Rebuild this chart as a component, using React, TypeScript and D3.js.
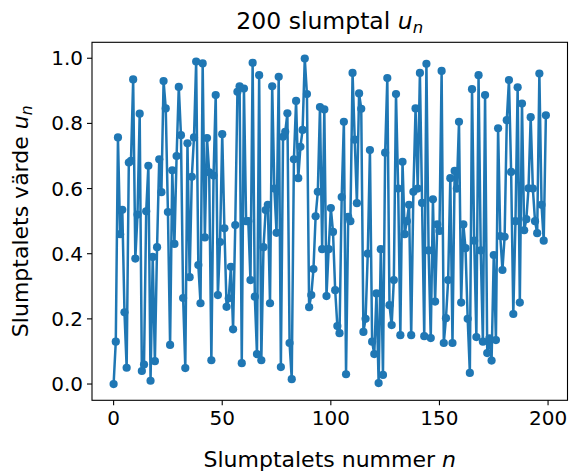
import React from "react";
import * as d3 from "d3";

const values: number[] = [
  0.0, 0.13, 0.757, 0.46, 0.535, 0.22, 0.05, 0.68, 0.685, 0.935,
  0.385, 0.52, 0.83, 0.04, 0.06, 0.53, 0.67, 0.01, 0.39, 0.07,
  0.42, 0.69, 0.589, 0.93, 0.846, 0.528, 0.12, 0.656, 0.43, 0.7,
  0.912, 0.764, 0.264, 0.049, 0.739, 0.328, 0.636, 0.757, 0.99, 0.365,
  0.248, 0.984, 0.45, 0.755, 0.65, 0.073, 0.64, 0.887, 0.273, 0.436,
  0.767, 0.478, 0.237, 0.263, 0.36, 0.168, 0.488, 0.897, 0.914, 0.064,
  0.907, 0.5, 0.5, 0.319, 0.986, 0.268, 0.092, 0.948, 0.073, 0.42,
  0.534, 0.55, 0.248, 0.914, 0.6, 0.464, 0.943, 0.052, 0.759, 0.774,
  0.831, 0.126, 0.015, 0.69, 0.869, 0.632, 0.728, 0.78, 0.999, 0.89,
  0.236, 0.273, 0.353, 0.515, 0.59, 0.85, 0.414, 0.843, 0.27, 0.414,
  0.54, 0.467, 0.288, 0.178, 0.156, 0.574, 0.805, 0.03, 0.513, 0.5,
  0.955, 0.75, 0.555, 0.892, 0.845, 0.16, 0.2, 0.4, 0.718, 0.13,
  0.092, 0.278, 0.003, 0.414, 0.028, 0.71, 0.939, 0.242, 0.181, 0.319,
  0.89, 0.6, 0.15, 0.682, 0.46, 0.5, 0.55, 0.15, 0.59, 0.846,
  0.6, 0.955, 0.556, 0.147, 0.983, 0.41, 0.141, 0.567, 0.253, 0.49,
  0.47, 0.961, 0.126, 0.202, 0.319, 0.632, 0.126, 0.654, 0.6, 0.805,
  0.25, 0.49, 0.417, 0.2, 0.034, 0.905, 0.44, 0.144, 0.948, 0.41,
  0.13, 0.887, 0.095, 0.14, 0.072, 0.396, 0.135, 0.785, 0.454, 0.35,
  0.452, 0.81, 0.933, 0.651, 0.215, 0.5, 0.911, 0.25, 0.861, 0.472,
  0.506, 0.601, 0.819, 0.6, 0.5, 0.463, 0.953, 0.55, 0.44, 0.825,
];

const xTicks: number[] = [0, 50, 100, 150, 200];
const yTicks: number[] = [0.0, 0.2, 0.4, 0.6, 0.8, 1.0];

const W = 570;
const H = 473;
const left = 92;
const right = 567.5;
const top = 42.3;
const bottom = 400.3;
const color = "#1f77b4";
const font = "'DejaVu Sans', sans-serif";

export default function App() {
  const n = values.length;
  const xm = (n - 1) * 0.05;
  const x = d3.scaleLinear().domain([-xm, n - 1 + xm]).range([left, right]);
  const ymin = d3.min(values)!;
  const ymax = d3.max(values)!;
  const ym = (ymax - ymin) * 0.05;
  const y = d3.scaleLinear().domain([ymin - ym, ymax + ym]).range([bottom, top]);
  const line = d3
    .line<number>()
    .x((_, i) => x(i))
    .y((d) => y(d));

  return (
    <svg
      width={W}
      height={H}
      style={{ position: "absolute", left: 0, top: 0, background: "#fff" }}
      fontFamily={font}
    >
      <rect x={0} y={0} width={W} height={H} fill="#fff" />
      <path d={line(values)!} fill="none" stroke={color} strokeWidth={2.5} strokeLinejoin="round" />
      {values.map((v, i) => (
        <circle key={i} cx={x(i)} cy={y(v)} r={4.1} fill={color} />
      ))}
      <rect
        x={left}
        y={top}
        width={right - left}
        height={bottom - top}
        fill="none"
        stroke="#000"
        strokeWidth={1.1}
      />
      {xTicks.map((t) => (
        <g key={t}>
          <line x1={x(t)} x2={x(t)} y1={bottom} y2={bottom + 5} stroke="#000" strokeWidth={1.1} />
          <text x={x(t)} y={bottom + 25} textAnchor="middle" fontSize={20} fill="#000">
            {t}
          </text>
        </g>
      ))}
      {yTicks.map((t) => (
        <g key={t}>
          <line x1={left - 5} x2={left} y1={y(t)} y2={y(t)} stroke="#000" strokeWidth={1.1} />
          <text x={left - 9} y={y(t) + 7} textAnchor="end" fontSize={20} fill="#000">
            {t.toFixed(1)}
          </text>
        </g>
      ))}
      <text x={(left + right) / 2} y={29} textAnchor="middle" fontSize={23.5} fill="#000">
        200 slumptal{" "}
        <tspan fontStyle="italic">u</tspan>
        <tspan fontStyle="italic" fontSize={16.5} dy={4}>n</tspan>
      </text>
      <text x={(left + right) / 2} y={467} textAnchor="middle" fontSize={22} fill="#000">
        Slumptalets nummer <tspan fontStyle="italic">n</tspan>
      </text>
      <text
        transform={`translate(28, ${(top + bottom) / 2}) rotate(-90)`}
        textAnchor="middle"
        fontSize={22}
        fill="#000"
      >
        Slumptalets värde <tspan fontStyle="italic">u</tspan>
        <tspan fontStyle="italic" fontSize={15.5} dy={4}>n</tspan>
      </text>
    </svg>
  );
}
